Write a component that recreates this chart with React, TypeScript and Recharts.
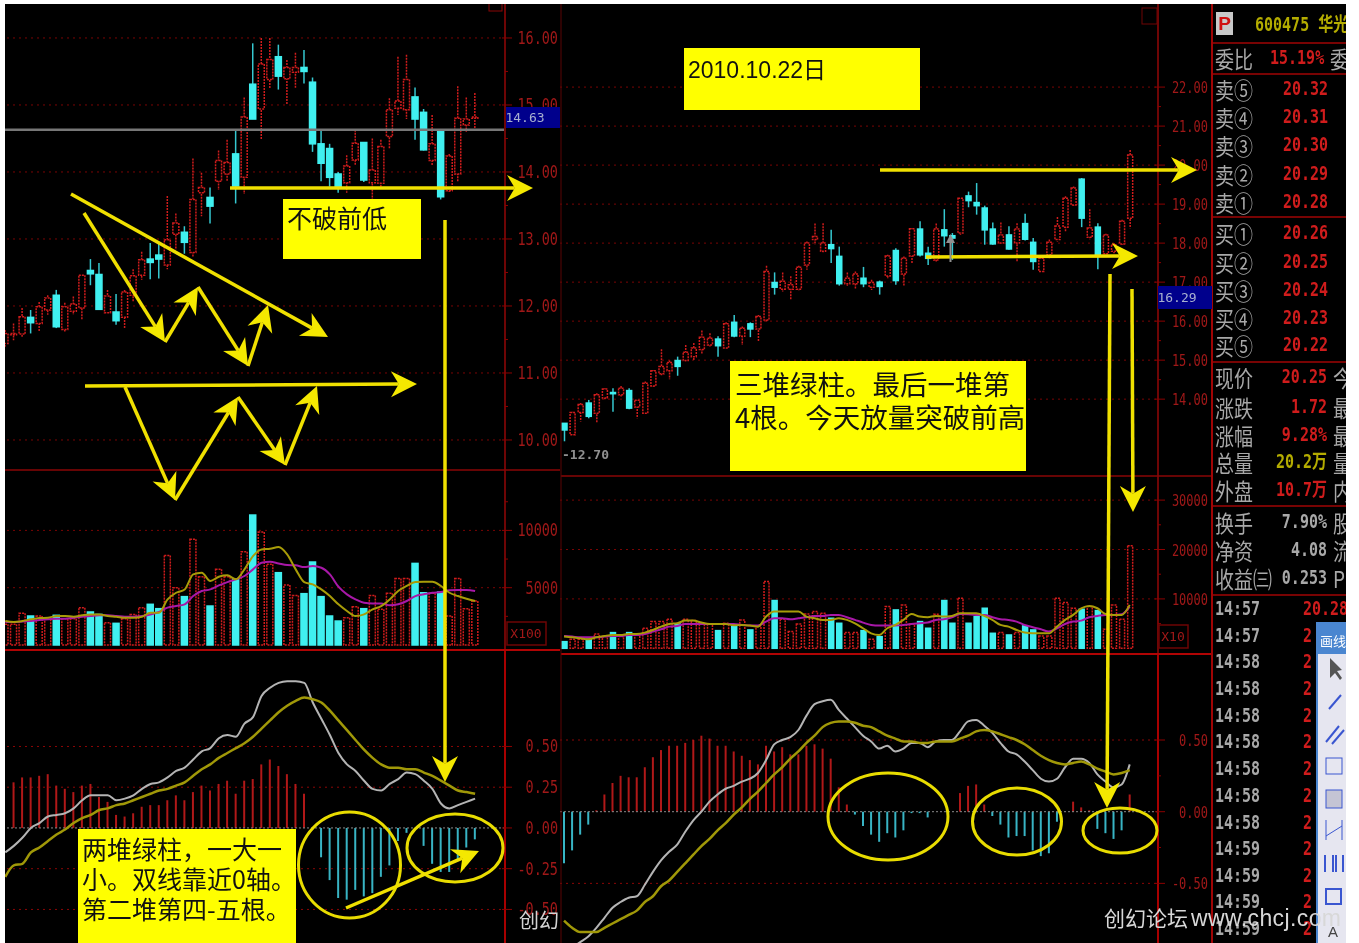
import { ComposedChart, Bar, Line, XAxis, YAxis, CartesianGrid, ReferenceLine, Cell } from "recharts";

// left stock, 56 sessions
const leftOpen = [11.44,11.57,11.58,11.83,11.74,11.94,12.16,11.65,11.92,11.97,12.53,12.47,11.90,11.91,11.83,12.16,12.46,12.70,12.76,12.61,13.07,13.10,12.80,13.69,13.62,13.86,13.97,14.27,13.92,15.31,14.94,15.38,15.72,15.39,15.49,15.56,15.34,14.42,14.35,13.97,13.84,14.18,14.44,13.84,13.83,14.53,14.95,14.93,15.12,14.89,14.17,14.61,13.72,13.97,14.70,14.80];
const leftClose = [11.59,11.59,11.84,11.75,11.99,12.12,11.69,11.99,12.03,12.46,12.48,11.95,12.15,11.78,12.21,12.45,12.69,12.65,12.70,12.99,13.24,12.95,13.59,13.77,13.49,14.17,14.14,13.79,14.82,14.79,15.61,15.68,15.43,15.56,15.56,15.50,14.42,14.13,13.92,13.76,14.09,14.43,13.88,14.03,14.38,14.93,15.06,15.38,14.79,14.33,14.42,13.63,14.24,14.80,14.79,14.82];
const leftHigh = [11.64,11.74,11.97,11.94,12.06,12.16,12.24,12.05,12.14,12.46,12.70,12.64,12.24,12.18,12.24,12.55,12.81,12.94,12.94,13.64,13.38,13.19,14.20,13.99,13.77,14.32,14.48,14.63,15.11,15.92,16.00,16.00,15.90,15.67,15.78,15.82,15.41,14.63,14.42,14.00,14.25,14.63,14.44,14.50,14.48,15.10,15.72,15.75,15.26,14.94,14.85,14.61,14.27,15.28,15.11,15.18];
const leftLow = [11.39,11.49,11.54,11.59,11.62,11.87,11.67,11.62,11.87,11.80,12.31,11.94,11.89,11.72,11.67,12.06,12.39,12.40,12.41,12.55,12.84,12.78,12.74,13.34,13.23,13.73,13.86,13.53,13.67,14.79,14.49,15.25,15.23,15.00,15.25,15.32,14.30,13.86,13.78,13.69,13.69,14.10,13.85,13.58,13.76,14.35,14.85,14.79,14.48,14.32,14.10,13.59,13.69,13.86,14.60,14.64];
const leftVolume = [1800,1800,2760,2530,2530,2240,2590,2300,2300,3260,2880,2670,1950,1890,2300,2670,3260,3550,3170,7820,5000,4220,9220,5960,3400,6600,5960,5730,8140,11340,9850,7040,6310,5230,4330,4480,7240,4220,2530,2090,2380,3340,3170,4330,3110,4510,5810,5810,7120,4560,4510,4620,2530,5810,3170,3840];
const leftVolMa5 = [2090,2010,2090,2240,2350,2380,2530,2530,2470,2590,2670,2670,2530,2470,2380,2380,2470,2820,2820,3980,4560,4850,6160,6310,5580,5960,6080,5730,6600,7760,8340,8400,8550,7910,6600,5490,5290,4850,4270,3550,2970,2530,2670,3110,3400,3980,4710,5150,5490,5520,5520,5150,4560,4270,4040,3840];
const leftVolMa10 = [2010,2010,2060,2090,2180,2240,2300,2300,2380,2470,2530,2590,2590,2530,2470,2470,2530,2670,2880,3260,3400,3550,4270,4710,4850,5200,5490,5730,6020,6600,7180,7270,7120,6980,6950,6800,6890,6740,6160,5090,4420,3980,3690,3630,3630,3460,3550,3840,4270,4420,4560,4620,4770,4800,4800,4710];
const leftHist = [0,0.28,0.31,0.31,0.32,0.33,0.26,0.24,0.22,0.26,0.27,0.19,0.16,0.08,0.07,0.09,0.13,0.14,0.14,0.17,0.20,0.17,0.22,0.26,0.23,0.27,0.29,0.21,0.29,0.30,0.39,0.42,0.38,0.33,0.27,0.21,0,-0.18,-0.32,-0.43,-0.44,-0.38,-0.42,-0.40,-0.30,-0.23,-0.08,-0.03,-0.01,-0.11,-0.22,-0.27,-0.27,-0.20,-0.12,-0.07];
const leftDif = [-0.15,-0.11,-0.06,0,0.03,0.07,0.08,0.09,0.12,0.17,0.20,0.20,0.20,0.17,0.18,0.20,0.24,0.27,0.28,0.31,0.35,0.37,0.42,0.47,0.49,0.55,0.57,0.56,0.64,0.68,0.81,0.86,0.89,0.90,0.90,0.89,0.77,0.67,0.57,0.46,0.39,0.35,0.29,0.24,0.23,0.27,0.30,0.34,0.33,0.29,0.24,0.15,0.12,0.14,0.16,0.18];
const leftDea = [-0.30,-0.23,-0.22,-0.15,-0.12,-0.08,-0.04,-0.01,0.03,0.06,0.08,0.11,0.12,0.14,0.15,0.17,0.19,0.21,0.23,0.24,0.26,0.28,0.32,0.36,0.39,0.43,0.46,0.49,0.52,0.56,0.61,0.66,0.71,0.75,0.78,0.80,0.79,0.77,0.72,0.66,0.60,0.54,0.48,0.43,0.39,0.37,0.37,0.36,0.36,0.34,0.32,0.29,0.26,0.23,0.22,0.21];

// right stock, 71 sessions
const rightOpen = [13.38,13.09,13.66,13.90,13.64,14.03,14.17,14.11,14.22,13.80,13.64,14.34,14.65,14.73,14.99,14.99,15.09,15.27,15.39,15.54,15.31,15.97,15.61,15.93,15.80,16.03,16.99,16.82,16.82,16.82,17.44,18.09,17.79,17.96,17.66,16.96,16.96,17.10,16.87,17.00,17.16,17.81,17.21,17.67,18.36,17.74,17.57,18.34,18.19,18.26,19.21,19.04,18.90,18.36,18.00,18.21,18.00,18.50,18.02,17.27,17.70,18.09,18.41,18.98,19.64,18.15,18.41,17.73,17.79,17.98,18.64];
const rightClose = [13.21,13.66,13.86,13.56,14.11,14.26,14.14,14.28,13.77,13.97,14.41,14.73,14.84,14.94,14.84,15.20,15.31,15.59,15.56,15.37,15.93,15.62,15.82,15.80,16.12,17.27,16.87,17.02,16.93,17.38,18.00,18.17,18.00,17.86,16.96,17.10,17.21,16.96,16.99,16.89,17.67,17.04,17.61,18.37,17.70,17.61,18.36,18.19,18.13,19.15,19.09,18.96,18.34,17.98,18.21,17.85,18.36,18.10,17.53,17.61,18.02,18.44,19.15,19.41,18.64,18.39,17.70,18.21,17.96,18.56,20.26];
const rightHigh = [13.38,13.68,13.90,13.98,14.15,14.28,14.28,14.34,14.28,13.98,14.45,14.75,15.28,14.99,15.09,15.39,15.44,15.76,15.69,15.61,15.97,16.16,15.86,15.97,16.16,17.42,17.25,17.25,17.15,17.42,18.04,18.50,18.51,18.34,17.91,17.25,17.27,17.39,17.06,17.04,17.70,17.87,17.66,18.39,18.56,17.91,18.50,18.87,18.26,19.15,19.32,19.54,18.96,18.53,18.53,18.43,18.51,18.75,18.13,17.64,18.09,18.67,19.20,19.45,19.67,18.87,18.51,18.24,18.00,18.60,20.39];
const rightLow = [12.92,13.09,13.43,13.51,13.40,13.98,13.68,14.07,13.74,13.51,13.64,14.32,14.60,14.51,14.60,14.97,14.99,15.16,15.35,15.09,15.28,15.59,15.39,15.59,15.48,15.99,16.68,16.76,16.56,16.79,17.32,17.96,17.76,17.49,16.91,16.91,16.82,16.87,16.80,16.68,17.08,16.93,16.91,17.47,17.66,17.44,17.53,17.91,17.57,18.21,18.92,18.73,17.96,17.96,17.98,17.83,17.53,18.07,17.32,17.27,17.61,18.04,18.30,18.96,18.41,18.09,17.33,17.67,17.74,17.96,18.38];
const rightVolume = [1350,1830,1830,1830,2900,2370,3180,2370,3180,2700,4060,5410,5410,5880,4930,5880,5610,5070,4930,3580,5070,4390,5750,3720,4530,13520,9670,5880,3380,4930,6960,7440,7100,6080,5070,3180,3180,3580,1830,2370,8450,7770,8790,4930,5410,4060,6900,9670,5070,10140,5070,6420,8110,3040,3180,2700,3180,4530,3720,2500,2500,10140,9260,8110,7910,8450,7640,3850,8790,5880,20750];
const rightVolMa5 = [2370,2230,2030,1830,2230,2500,2700,2700,2910,2910,3180,3720,4390,4930,5070,5610,5610,5210,4930,4930,4930,4660,4730,4600,4390,6420,7440,7440,7440,7440,6420,6080,5750,5750,6080,5750,5070,4060,3040,2700,4060,4730,5750,6960,6420,6290,6560,6420,6560,7100,7100,7100,6560,5750,4730,4390,3720,3180,3040,3040,3040,4390,5750,6760,8110,8590,8110,6960,6760,6760,8790];
const rightVolMa10 = [2500,2370,2230,2230,2230,2370,2500,2500,2700,2700,2910,3380,3850,4390,4530,4930,4930,4930,4930,4930,4930,4930,4730,4600,4600,5410,6080,6080,5880,6080,6290,6560,6560,6760,6760,6290,5750,5210,4730,4600,4600,4600,4730,4930,5070,5210,5750,5880,6290,6960,6900,6760,6760,6290,5880,5750,5410,4730,4260,3850,3380,4060,4930,5410,5610,6290,6560,6760,6760,6900,8450];
const rightHist = [-0.36,-0.27,-0.16,-0.09,0.01,0.12,0.20,0.25,0.24,0.24,0.31,0.38,0.43,0.46,0.46,0.48,0.50,0.53,0.51,0.46,0.46,0.42,0.39,0.36,0.33,0.46,0.42,0.45,0.40,0.40,0.46,0.47,0.44,0.37,0.17,0.05,-0.02,-0.10,-0.16,-0.21,-0.15,-0.18,-0.13,-0.01,-0.01,-0.04,0,0,0,0.13,0.18,0.19,0.05,-0.03,-0.09,-0.18,-0.17,-0.17,-0.27,-0.31,-0.29,-0.07,0,0.07,0.03,0.01,-0.12,-0.15,-0.19,-0.13,0.12];
const rightDif = [-1.01,-0.95,-0.91,-0.87,-0.81,-0.74,-0.67,-0.63,-0.60,-0.59,-0.51,-0.42,-0.34,-0.28,-0.23,-0.14,-0.06,0,0.07,0.12,0.16,0.18,0.21,0.23,0.27,0.36,0.47,0.50,0.52,0.57,0.67,0.75,0.77,0.78,0.71,0.65,0.59,0.53,0.49,0.44,0.46,0.42,0.44,0.48,0.48,0.45,0.49,0.50,0.50,0.56,0.63,0.64,0.60,0.55,0.48,0.42,0.40,0.35,0.29,0.23,0.21,0.23,0.31,0.37,0.37,0.34,0.26,0.21,0.17,0.19,0.33];
const rightDea = [-0.76,-0.81,-0.84,-0.84,-0.84,-0.81,-0.78,-0.75,-0.72,-0.69,-0.63,-0.59,-0.52,-0.48,-0.42,-0.36,-0.30,-0.24,-0.19,-0.13,-0.08,-0.02,0.03,0.09,0.14,0.20,0.26,0.31,0.37,0.42,0.48,0.53,0.59,0.62,0.63,0.63,0.62,0.60,0.59,0.56,0.53,0.51,0.49,0.49,0.48,0.48,0.49,0.49,0.49,0.51,0.53,0.56,0.57,0.56,0.54,0.52,0.50,0.47,0.43,0.39,0.36,0.34,0.33,0.34,0.35,0.33,0.30,0.28,0.26,0.27,0.29];

// axis ticks
const leftPriceTicks = [10,10.5,11,11.5,12,12.5,13,13.5,14,14.5,15,15.5,16];
const leftPriceLabels = [10,11,12,13,14,15,16];
const leftVolTicks = [2500,5000,7500,10000,12500];
const leftVolLabels = [5000,10000];
const leftMacdTicks = [-0.5,-0.25,0,0.25,0.5];
const rightPriceTicks = [14,14.5,15,15.5,16,16.5,17,17.5,18,18.5,19,19.5,20,20.5,21,21.5,22];
const rightPriceLabels = [14,15,16,17,18,19,20,21,22];
const rightVolTicks = [5000,10000,15000,20000,25000,30000];
const rightVolLabels = [10000,20000,30000];
const rightMacdTicks = [-0.5,-0.25,0,0.25,0.5];
const rightMacdLabels = [-0.5,0,0.5];

// quote sidebar
const askLabels = ["卖⑤","卖④","卖③","卖②","卖①"];
const askPrices = ["20.32","20.31","20.30","20.29","20.28"];
const bidLabels = ["买①","买②","买③","买④","买⑤"];
const bidPrices = ["20.26","20.25","20.24","20.23","20.22"];
const statLabels = ["现价","涨跌","涨幅","总量","外盘","换手","净资","收益㈢"];
const statValues = ["20.25","1.72","9.28%","20.2万","10.7万","7.90%","4.08","0.253"];
const statTails = ["今","最","最","量","内","股","流","PE"];
const tradeTimes = ["14:57","14:57","14:58","14:58","14:58","14:58","14:58","14:58","14:58","14:59","14:59","14:59","14:59"];

const RED = "#d01c1c";
const CYAN = "#40f0f0";
const DIM = "#a01818";

function buildRows(open, close, high, low, volume, ma5, ma10, hist, dif, dea, blanks) {
  const rows = open.map((o, i) => ({
    day: i, open: o, close: close[i], high: high[i], low: low[i],
    volume: volume[i], ma5: ma5[i], ma10: ma10[i], hist: hist[i], dif: dif[i], dea: dea[i],
  }));
  for (let i = 0; i < blanks; i++) rows.push({ day: open.length + i });
  return rows;
}

const leftRows = buildRows(leftOpen, leftClose, leftHigh, leftLow, leftVolume, leftVolMa5, leftVolMa10, leftHist, leftDif, leftDea, 3);
const rightRows = buildRows(rightOpen, rightClose, rightHigh, rightLow, rightVolume, rightVolMa5, rightVolMa10, rightHist, rightDif, rightDea, 3);

function Candle(props) {
  const { x, y, width, height, payload } = props;
  if (payload.high === undefined) return null;
  const up = payload.close >= payload.open;
  const perUnit = height / (payload.high - payload.low);
  const top = y + (payload.high - Math.max(payload.open, payload.close)) * perUnit;
  const bodyH = Math.max(Math.abs(payload.close - payload.open) * perUnit, 1);
  const cx = x + width / 2;
  const color = up ? RED : CYAN;
  return (
    <g>
      <line x1={cx} x2={cx} y1={y} y2={y + height} stroke={up ? RED : "#35c8d0"} strokeWidth={1.5} strokeDasharray={up ? "2 1" : undefined} />
      <rect x={x} y={top} width={width} height={bodyH} fill={up ? "#000" : color} stroke={color} strokeWidth={1.5} strokeDasharray={up ? "2 1" : undefined} />
    </g>
  );
}

function VolumeBar(props) {
  const { x, y, width, height, payload } = props;
  if (payload.high === undefined) return null;
  const up = payload.close >= payload.open;
  return (
    <rect x={x} y={y} width={width} height={height} fill={up ? "#000" : CYAN} stroke={up ? RED : CYAN} strokeWidth={1.5} strokeDasharray={up ? "2 1" : undefined} />
  );
}

// axis tick: a small mark on the axis, and a label on the labelled values only
function axisTick(labels, digits, labelWidth, fontSize) {
  return (props) => {
    const { x, y, payload } = props;
    const major = labels.includes(payload.value);
    const tx = x + labelWidth;
    return (
      <g>
        <line x1={x - (major ? 3 : 0)} x2={x + (major ? 7 : 3)} y1={y} y2={y} stroke="#8c0000" />
        {major && (
          <text
            transform={`translate(${tx},${y + 6}) scale(1,1.3)`}
            textAnchor="end"
            fontFamily="'DejaVu Sans Mono', monospace"
            fontSize={fontSize}
            fill={DIM}
          >
            {payload.value.toFixed(digits)}
          </text>
        )}
      </g>
    );
  };
}

function PricePanel({ rows, left, top, width, height, domain, ticks, labels, axisWidth, labelWidth, fontSize, barSize, lastPrice }) {
  return (
    <div style={{ position: "absolute", left, top }}>
      <ComposedChart width={width} height={height} data={rows} margin={{ top: 0, right: 0, bottom: 0, left: 0 }}>
        <CartesianGrid vertical={false} horizontalValues={labels} stroke="#7a0404" strokeDasharray="2 4" />
        <XAxis dataKey="day" hide />
        <YAxis orientation="right" width={axisWidth} type="number" domain={domain} ticks={ticks} interval={0} allowDataOverflow
          tickSize={0} tickMargin={0} axisLine={{ stroke: "#6e0505", strokeWidth: 2 }} tickLine={false}
          tick={axisTick(labels, 2, labelWidth, fontSize)} />
        <Bar dataKey={(d) => (d.high === undefined ? null : [d.low, d.high])} barSize={barSize} shape={Candle} isAnimationActive={false} />
        {lastPrice !== undefined && <ReferenceLine y={lastPrice} stroke="#777" strokeWidth={2.5} />}
      </ComposedChart>
    </div>
  );
}

function VolumePanel({ rows, left, top, width, height, domain, ticks, labels, axisWidth, labelWidth, fontSize, barSize }) {
  return (
    <div style={{ position: "absolute", left, top }}>
      <ComposedChart width={width} height={height} data={rows} margin={{ top: 0, right: 0, bottom: 0, left: 0 }}>
        <CartesianGrid vertical={false} horizontalValues={labels} stroke="#7a0404" strokeDasharray="2 4" />
        <XAxis dataKey="day" hide />
        <YAxis orientation="right" width={axisWidth} type="number" domain={domain} ticks={ticks} interval={0} allowDataOverflow
          tickSize={0} tickMargin={0} axisLine={{ stroke: "#6e0505", strokeWidth: 2 }} tickLine={false}
          tick={axisTick(labels, 0, labelWidth, fontSize)} />
        <Bar dataKey="volume" barSize={barSize} shape={VolumeBar} isAnimationActive={false} />
        <Line dataKey="ma10" type="monotone" stroke="#a818a8" strokeWidth={2} dot={false} isAnimationActive={false} />
        <Line dataKey="ma5" type="monotone" stroke="#a89c08" strokeWidth={2} dot={false} isAnimationActive={false} />
      </ComposedChart>
    </div>
  );
}

function MacdPanel({ rows, left, top, width, height, domain, ticks, labels, axisWidth, labelWidth, fontSize }) {
  return (
    <div style={{ position: "absolute", left, top }}>
      <ComposedChart width={width} height={height} data={rows} margin={{ top: 0, right: 0, bottom: 0, left: 0 }}>
        <CartesianGrid vertical={false} horizontalValues={labels.filter((v) => v !== 0)} stroke="#8c0606" strokeDasharray="2 4" />
        <XAxis dataKey="day" hide />
        <YAxis orientation="right" width={axisWidth} type="number" domain={domain} ticks={ticks} interval={0} allowDataOverflow
          tickSize={0} tickMargin={0} axisLine={{ stroke: "#a80000", strokeWidth: 2 }} tickLine={false}
          tick={axisTick(labels, 2, labelWidth, fontSize)} />
        <ReferenceLine y={0} stroke="#8a8a8a" strokeDasharray="2 2" />
        <Bar dataKey="hist" barSize={2} isAnimationActive={false}>
          {rows.map((r) => (
            <Cell key={r.day} fill={r.hist >= 0 ? "#b01818" : "#38b4c4"} />
          ))}
        </Bar>
        <Line dataKey="dif" type="monotone" stroke="#b4b4b4" strokeWidth={2} dot={false} isAnimationActive={false} />
        <Line dataKey="dea" type="monotone" stroke="#a09808" strokeWidth={2.5} dot={false} isAnimationActive={false} />
      </ComposedChart>
    </div>
  );
}

// hand-drawn annotation arrow, pasted over the screenshot
function Arrow({ x1, y1, x2, y2, w = 3.5, head = 26, half = 13 }) {
  const len = Math.hypot(x2 - x1, y2 - y1);
  const ux = (x2 - x1) / len;
  const uy = (y2 - y1) / len;
  const bx = x2 - ux * head;
  const by = y2 - uy * head;
  const nx = bx + ux * head * 0.3;
  const ny = by + uy * head * 0.3;
  const pts = `${x2},${y2} ${bx - uy * half},${by + ux * half} ${nx},${ny} ${bx + uy * half},${by - ux * half}`;
  return (
    <g>
      <line x1={x1} y1={y1} x2={nx} y2={ny} stroke="#f0e000" strokeWidth={w} />
      <polygon points={pts} fill="#f4e800" />
    </g>
  );
}

function Note({ left, top, width, height, fontSize, lineHeight, pad, family, children }) {
  return (
    <div style={{
      position: "absolute", left, top, width, height, background: "#ffff00", color: "#111",
      fontFamily: family || "'Noto Sans CJK SC'", fontSize, lineHeight: `${lineHeight}px`, whiteSpace: "pre",
      padding: pad, boxSizing: "border-box",
    }}>
      {children}
    </div>
  );
}

function Cellish({ x, y, color, size = 15, bold, children, right }) {
  const pos = right !== undefined ? { right } : { left: x };
  return (
    <div style={{
      position: "absolute", ...pos, top: y, color, fontSize: size, lineHeight: 1, whiteSpace: "nowrap",
      fontFamily: "'DejaVu Sans Mono', 'Noto Sans CJK SC'", fontWeight: bold ? 700 : 400,
      transform: "translateY(-50%) scaleY(1.25)",
    }}>
      {children}
    </div>
  );
}

function SideLabel({ y, children, color = "#a8a8a8", x = 2 }) {
  return (
    <div style={{
      position: "absolute", left: x, top: y, color, fontSize: 19, lineHeight: 1, whiteSpace: "nowrap",
      fontFamily: "'Noto Sans CJK SC'", transform: "translateY(-50%) scaleY(1.2)",
    }}>
      {children}
    </div>
  );
}

// sidebar coordinates are relative to its own box, which starts at 1213,4
function Sidebar() {
  const SY = -4;
  const askY = [89, 117, 145, 174, 202];
  const bidY = [233, 262, 290, 318, 345];
  const statY = [377, 407, 435, 462, 490, 522, 550, 578];
  const tradeY = [609, 636, 662, 689, 716, 742, 769, 796, 823, 849, 876, 902, 929];
  return (
    <div style={{ position: "absolute", left: 1213, top: 4, width: 133, height: 939, overflow: "hidden" }}>
      <div style={{ position: "absolute", left: 3, top: 8, width: 17, height: 23, background: "#c8c8c8", color: "#d01010", fontFamily: "'Liberation Sans'", fontWeight: 700, fontSize: 19, lineHeight: "23px", textAlign: "center" }}>P</div>
      <Cellish x={42} y={25 + SY} color="#b4ac00" bold size={15}>600475 华光</Cellish>
      <SideLabel y={58 + SY}>委比</SideLabel>
      <Cellish x={57} y={58 + SY} color="#d01c1c" bold size={15}>15.19%</Cellish>
      <SideLabel y={58 + SY} x={117}>委</SideLabel>
      {askLabels.map((t, i) => <SideLabel key={t} y={askY[i] + SY}>{t}</SideLabel>)}
      {askPrices.map((t, i) => <Cellish key={t} x={70} y={askY[i] + SY} color="#d01c1c" bold>{t}</Cellish>)}
      {bidLabels.map((t, i) => <SideLabel key={t} y={bidY[i] + SY}>{t}</SideLabel>)}
      {bidPrices.map((t, i) => <Cellish key={t} x={70} y={bidY[i] + SY} color="#d01c1c" bold>{t}</Cellish>)}
      {statLabels.map((t, i) => <SideLabel key={t} y={statY[i] + SY}>{t}</SideLabel>)}
      {statValues.map((t, i) => (
        <Cellish key={t} right={19} y={statY[i] + SY} bold color={i === 3 ? "#b4ac00" : i > 4 ? "#a8a8a8" : "#d01c1c"}>{t}</Cellish>
      ))}
      {statTails.map((t, i) => <SideLabel key={i} y={statY[i] + SY} x={120}>{t}</SideLabel>)}
      {tradeTimes.map((t, i) => <Cellish key={i} x={2} y={tradeY[i] + SY} color="#a8a8a8" bold>{t}</Cellish>)}
      {tradeTimes.map((_, i) => <Cellish key={i} x={90} y={tradeY[i] + SY} color="#d01c1c" bold>{i === 0 ? "20.28" : "2"}</Cellish>)}
      <div style={{ position: "absolute", left: 103, top: 618, width: 30, height: 321, background: "#e6e6f0", borderLeft: "2px solid #4a86d0", boxSizing: "border-box" }} />
      <div style={{ position: "absolute", left: 103, top: 618, width: 30, height: 32, background: "#4a86d0", color: "#fff", fontFamily: "'Noto Sans CJK SC'", fontSize: 13, lineHeight: "38px", paddingLeft: 4, whiteSpace: "nowrap", boxSizing: "border-box", overflow: "hidden" }}>画线</div>
    </div>
  );
}

function Annotations() {
  return (
    <svg width={1359} height={943} style={{ position: "absolute", left: 0, top: 0 }}>
      {/* panel frames */}
      <line x1={5} x2={560} y1={470} y2={470} stroke="#8a0606" strokeWidth={1.5} />
      <line x1={5} x2={560} y1={650} y2={650} stroke="#b00404" strokeWidth={2} />
      <line x1={561} x2={1212} y1={476} y2={476} stroke="#8a0606" strokeWidth={1.5} />
      <line x1={561} x2={1212} y1={654} y2={654} stroke="#b00404" strokeWidth={2} />
      <line x1={561} x2={561} y1={4} y2={943} stroke="#5a0404" />
      <line x1={1212} x2={1212} y1={4} y2={943} stroke="#a00404" strokeWidth={2} />
      <line x1={1212} x2={1346} y1={43} y2={43} stroke="#a00404" strokeWidth={1.5} />
      <line x1={1212} x2={1346} y1={74} y2={74} stroke="#a00404" strokeWidth={1.5} />
      <line x1={1212} x2={1346} y1={217} y2={217} stroke="#a00404" strokeWidth={1.5} />
      <line x1={1212} x2={1346} y1={362} y2={362} stroke="#a00404" strokeWidth={1.5} />
      <line x1={1212} x2={1346} y1={506} y2={506} stroke="#a00404" strokeWidth={1.5} />
      <line x1={1212} x2={1346} y1={595} y2={595} stroke="#a00404" strokeWidth={1.5} />

      <rect x={489} y={3} width={13} height={8} fill="none" stroke="#8a0606" />
      <rect x={1142} y={8} width={15} height={16} fill="none" stroke="#6e0505" />

      {/* last price and scale boxes */}
      <rect x={506} y={107} width={54} height={21} fill="#00008c" />
      <text x={525} y={122} textAnchor="middle" fill="#a8b0d0" fontFamily="'DejaVu Sans Mono'" fontSize={13}>14.63</text>
      <rect x={1158} y={286} width={54} height={23} fill="#00008c" />
      <text x={1177} y={302} textAnchor="middle" fill="#a8b0d0" fontFamily="'DejaVu Sans Mono'" fontSize={13}>16.29</text>
      <rect x={507} y={622} width={39} height={23} fill="none" stroke="#6e0505" strokeWidth={1.5} />
      <text x={526} y={638} textAnchor="middle" fill={DIM} fontFamily="'DejaVu Sans Mono'" fontSize={13}>X100</text>
      <rect x={1159} y={625} width={29} height={23} fill="none" stroke="#6e0505" strokeWidth={1.5} />
      <text x={1173} y={641} textAnchor="middle" fill={DIM} fontFamily="'DejaVu Sans Mono'" fontSize={13}>X10</text>
      <text x={562} y={459} fill="#909090" fontFamily="'DejaVu Sans Mono'" fontSize={13} fontWeight={700}>-12.70</text>

      {/* left stock arrows */}
      <Arrow x1={230} y1={188} x2={533} y2={188} />
      <Arrow x1={71} y1={194} x2={328} y2={337} />
      <Arrow x1={84} y1={213} x2={165} y2={342} />
      <Arrow x1={165} y1={342} x2={198} y2={287} />
      <Arrow x1={198} y1={287} x2={248} y2={366} />
      <Arrow x1={248} y1={366} x2={268} y2={305} />
      <Arrow x1={85} y1={386} x2={417} y2={384} />
      <Arrow x1={125} y1={387} x2={175} y2={500} />
      <Arrow x1={175} y1={500} x2={238} y2={397} />
      <Arrow x1={238} y1={397} x2={285} y2={465} />
      <Arrow x1={285} y1={465} x2={317} y2={386} />
      <Arrow x1={445} y1={220} x2={445} y2={782} />
      <ellipse cx={349.5} cy={865} rx={51} ry={53} fill="none" stroke="#e8dc00" strokeWidth={3} />
      <ellipse cx={455} cy={848} rx={48} ry={34} fill="none" stroke="#e8dc00" strokeWidth={3} />
      <Arrow x1={346} y1={908} x2={479} y2={851} />

      {/* right stock arrows */}
      <Arrow x1={880} y1={170} x2={1197} y2={170} />
      <Arrow x1={926} y1={257} x2={1138} y2={256} />
      <Arrow x1={1110} y1={274} x2={1107} y2={808} />
      <Arrow x1={1132} y1={289} x2={1133} y2={512} />
      <ellipse cx={888} cy={816.5} rx={60} ry={43.5} fill="none" stroke="#e8dc00" strokeWidth={3} />
      <ellipse cx={1017} cy={821.5} rx={44.5} ry={33.5} fill="none" stroke="#e8dc00" strokeWidth={3} />
      <ellipse cx={1120} cy={830.5} rx={37} ry={22.5} fill="none" stroke="#e8dc00" strokeWidth={3} />
      <line x1={950.5} x2={950.5} y1={238} y2={262} stroke="#909090" strokeWidth={2} />
      <polygon points="950.5,234 946,243 955,243" fill="#909090" />

      {/* toolbar glyphs */}
      <polygon points="1330,658 1330,678 1335,673 1340,680 1342,678 1337,671 1342,670" fill="#555" />
      <line x1={1329} x2={1341} y1={709} y2={695} stroke="#3a56d0" strokeWidth={2} />
      <line x1={1326} x2={1339} y1={742} y2={726} stroke="#3a56d0" strokeWidth={2} />
      <line x1={1332} x2={1344} y1={744} y2={730} stroke="#3a56d0" strokeWidth={2} />
      <rect x={1326} y={758} width={16} height={16} fill="none" stroke="#3a56d0" />
      <rect x={1326} y={790} width={16} height={18} fill="#c4c4d4" stroke="#3a56d0" />
      <path d="M1326 820 V840 M1342 820 V840 M1326 836 L1342 826" stroke="#3a56d0" fill="none" />
      <path d="M1325 855 V872 M1333 855 V872 M1336 855 V872 M1343 855 V872" stroke="#3a56d0" fill="none" strokeWidth={2} />
      <rect x={1326} y={889} width={15} height={15} fill="none" stroke="#3a56d0" strokeWidth={2} />
      <text x={1333} y={937} textAnchor="middle" fontSize={15} fill="#444" fontFamily="'Liberation Sans'">A</text>

      {/* watermark */}
      <text x={519} y={928} fill="#d4d4d4" fontFamily="'Noto Sans CJK SC'" fontSize={20}>创幻</text>
      <text x={1104} y={926} fill="#d8d8d8" fontFamily="'Noto Sans CJK SC'" fontSize={21}>创幻论坛</text>
      <text x={1191} y={926} fill="#d8d8d8" fontFamily="'Liberation Sans'" fontSize={23} textLength={150}>www.chcj.com</text>
    </svg>
  );
}

export default function App() {
  return (
    <div style={{ position: "absolute", left: 0, top: 0, width: 1359, height: 943, background: "#fff", overflow: "hidden", filter: "blur(0.5px)" }}>
      <div style={{ position: "absolute", left: 5, top: 4, width: 1341, height: 939, background: "#000" }} />

      <PricePanel rows={leftRows} left={1} top={4} width={559} height={466} domain={[9.552, 16.507]} ticks={leftPriceTicks} labels={leftPriceLabels} axisWidth={55} labelWidth={53} fontSize={13.5} barSize={6} lastPrice={14.63} />
      <VolumePanel rows={leftRows} left={1} top={470} width={559} height={180} domain={[-436, 15270]} ticks={leftVolTicks} labels={leftVolLabels} axisWidth={55} labelWidth={53} fontSize={13.5} barSize={6} />
      <MacdPanel rows={leftRows} left={1} top={650} width={559} height={293} domain={[-0.706, 1.092]} ticks={leftMacdTicks} labels={leftMacdTicks} axisWidth={55} labelWidth={53} fontSize={13.5} />

      <PricePanel rows={rightRows} left={560} top={4} width={652} height={472} domain={[12.03, 24.13]} ticks={rightPriceTicks} labels={rightPriceLabels} axisWidth={54} labelWidth={50} fontSize={12} barSize={5} />
      <VolumePanel rows={rightRows} left={560} top={476} width={652} height={178} domain={[-1150, 34880]} ticks={rightVolTicks} labels={rightVolLabels} axisWidth={54} labelWidth={50} fontSize={12} barSize={5} />
      <MacdPanel rows={rightRows} left={560} top={654} width={652} height={289} domain={[-0.916, 1.1]} ticks={rightMacdTicks} labels={rightMacdLabels} axisWidth={54} labelWidth={50} fontSize={12} />

      <Sidebar />
      <Annotations />

      <Note left={283} top={199} width={138} height={60} fontSize={25} lineHeight={36} pad="0 0 0 4px">不破前低</Note>
      <Note left={78} top={829} width={218} height={114} fontSize={25} lineHeight={30} pad="4px 0 0 4px">{"两堆绿柱，一大一\n小。双线靠近0轴。\n第二堆第四-五根。"}</Note>
      <Note left={684} top={48} width={236} height={62} fontSize={23} lineHeight={44} pad="0 0 0 4px" family="'Liberation Sans','Noto Sans CJK SC'">2010.10.22日</Note>
      <Note left={730} top={361} width={296} height={110} fontSize={27.5} lineHeight={33} pad="6px 0 0 5px">{"三堆绿柱。最后一堆第\n4根。今天放量突破前高"}</Note>

      <div style={{ position: "absolute", left: 0, top: 0, width: 5, height: 943, background: "#fff" }} />
      <div style={{ position: "absolute", left: 0, top: 0, width: 1359, height: 4, background: "#fff" }} />
    </div>
  );
}
